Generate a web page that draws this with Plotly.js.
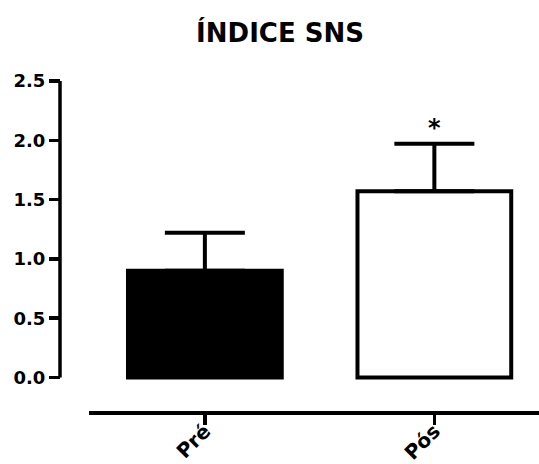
<!DOCTYPE html>
<html>
<head>
<meta charset="utf-8">
<script src="https://cdn.plot.ly/plotly-3.0.1.min.js"></script>
<style>
  html, body { margin: 0; padding: 0; background: #fff; }
  #chart { width: 539px; height: 464px; }
</style>
</head>
<body>
<div id="chart"></div>
<script>
// ---- data ----
const categories = ['Pré', 'Pós'];
const means = [0.90, 1.57];
const semUpper = [0.32, 0.40];
const semLower = [0, 0];
const yTickVals = [0, 0.5, 1.0, 1.5, 2.0, 2.5];
const yTickText = ['0.0', '0.5', '1.0', '1.5', '2.0', '2.5'];
const chartTitle = 'ÍNDICE SNS';
const significanceMark = '*';
const significanceCategory = 'Pós';
const significanceY = 2.10;

const FONT = 'DejaVu Sans, Arial, sans-serif';

const trace = {
  type: 'bar',
  x: categories,
  y: means,
  width: 0.67,
  marker: {
    color: ['#000000', '#ffffff'],
    line: { color: '#000000', width: 4 }
  },
  error_y: {
    type: 'data',
    symmetric: false,
    array: semUpper,
    arrayminus: semLower,
    color: '#000000',
    thickness: 4,
    width: 40
  },
  hoverinfo: 'none',
  showlegend: false
};

const layout = {
  width: 539,
  height: 464,
  paper_bgcolor: '#ffffff',
  plot_bgcolor: '#ffffff',
  margin: { l: 60, r: 0, t: 81, b: 53, pad: 0 },
  title: {
    text: chartTitle,
    font: { family: FONT, size: 26, color: '#000', weight: 'bold' },
    xref: 'container', x: 0.5195, xanchor: 'center',
    yref: 'container', y: 0.93, yanchor: 'middle'
  },
  xaxis: {
    type: 'category',
    domain: [0.0605, 1],
    range: [-0.505, 1.456],
    showline: true, linecolor: '#000', linewidth: 3.5,
    ticks: 'outside', ticklen: 10, tickwidth: 3.5, tickcolor: '#000',
    tickangle: -45,
    ticklabelstandoff: -13,
    tickfont: { family: FONT, size: 20, color: '#000', weight: 'bold' },
    showgrid: false, zeroline: false,
    fixedrange: true
  },
  yaxis: {
    anchor: 'free', position: 0,
    range: [-0.282, 2.5],
    showline: false,
    tickvals: yTickVals, ticktext: yTickText,
    ticks: 'outside', ticklen: 11, tickwidth: 3.5, tickcolor: '#000',
    tickfont: { family: FONT, size: 18, color: '#000', weight: 'bold' },
    showgrid: false, zeroline: false,
    fixedrange: true
  },
  shapes: [{
    type: 'line', xref: 'paper', yref: 'y',
    x0: 0, x1: 0, y0: 0, y1: yTickVals[yTickVals.length - 1],
    line: { color: '#000', width: 3.5 }
  }],
  annotations: [{
    x: significanceCategory, y: significanceY, xref: 'x', yref: 'y',
    text: significanceMark, showarrow: false,
    font: { family: FONT, size: 24, color: '#000', weight: 'bold' },
    xanchor: 'center', yanchor: 'middle'
  }]
};

Plotly.newPlot('chart', [trace], layout, { displayModeBar: false, staticPlot: true });
</script>
</body>
</html>
